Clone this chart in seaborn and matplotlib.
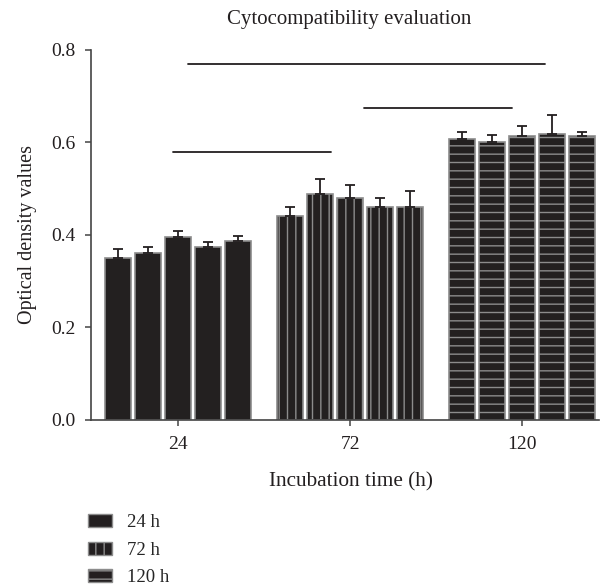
import numpy as np
import pandas as pd
import matplotlib
matplotlib.use("Agg")
import matplotlib.pyplot as plt
import seaborn as sns
from matplotlib.patches import Patch

# dados
tempos = ["24", "72", "120"]
amostras = ["A", "B", "C", "D", "E"]
od_24 = [0.350, 0.362, 0.396, 0.375, 0.386]
od_72 = [0.442, 0.489, 0.481, 0.461, 0.461]
od_120 = [0.607, 0.600, 0.614, 0.618, 0.613]
err_24 = [0.020, 0.012, 0.013, 0.010, 0.012]
err_72 = [0.019, 0.033, 0.027, 0.018, 0.035]
err_120 = [0.016, 0.016, 0.022, 0.042, 0.010]
legenda = ["24 h", "72 h", "120 h"]

# linhas de significância: inicio, fim (em posição de grupo), altura
sig_inicio = [0.06, 1.08, -0.03]
sig_fim = [2.13, 1.94, 0.89]
sig_altura = [0.770, 0.675, 0.580]

valores = [od_24, od_72, od_120]
erros = [err_24, err_72, err_120]
df = pd.DataFrame({
    "tempo": np.repeat(tempos, len(amostras)),
    "amostra": amostras * len(tempos),
    "od": np.concatenate(valores),
})

sns.set_style("ticks")
plt.rcParams["font.family"] = ["Liberation Serif", "DejaVu Serif"]
plt.rcParams["hatch.linewidth"] = 1.0
plt.rcParams["hatch.color"] = "#8c8c8c"

preto = "#231f20"
cinza = "#8c8c8c"
hatches = ["", "||", "--"]

fig = plt.figure(figsize=(6.01, 5.86), dpi=100)
ax = fig.add_axes([0.1514, 0.2833, 0.8456, 0.6314])

sns.barplot(data=df, x="tempo", y="od", hue="amostra", order=tempos,
            hue_order=amostras, palette=[preto] * 5, width=0.87, gap=0.13,
            errorbar=None, legend=False, ax=ax, edgecolor=cinza, linewidth=1.2)

barras = list(ax.containers)
for h, cont in enumerate(barras):
    for g, barra in enumerate(cont.patches):
        barra.set_hatch(hatches[g])
        xc = barra.get_x() + barra.get_width() / 2
        ax.errorbar(xc, valores[g][h], yerr=[[0], [erros[g][h]]], fmt="none",
                    ecolor=preto, elinewidth=1.3, capsize=3.3, capthick=1.3)

for x0, x1, y in zip(sig_inicio, sig_fim, sig_altura):
    ax.plot([x0, x1], [y, y], color=preto, lw=1.3)

ax.set_ylim(0, 0.8)
ax.set_xlim(-0.504, 2.446)
ax.set_yticks([0.0, 0.2, 0.4, 0.6, 0.8])
ax.set_yticklabels(["0.0", "0.2", "0.4", "0.6", "0.8"])
ax.tick_params(axis="both", labelsize=14, colors="#444444", length=4.3,
               width=1.1, pad=7, labelcolor="#231f20")
for s in ["left", "bottom"]:
    ax.spines[s].set_color("#444444")
    ax.spines[s].set_linewidth(1.2)
sns.despine(ax=ax)

ax.set_xlabel("Incubation time (h)", fontsize=15.3, color="#231f20")
ax.set_ylabel("Optical density values", fontsize=14.5, color="#231f20")
ax.xaxis.set_label_coords(0.512, -0.14)
ax.yaxis.set_label_coords(-0.106, 0.5)
ax.text(0.509, 1.083, "Cytocompatibility evaluation", transform=ax.transAxes,
        ha="center", va="center", fontsize=15, color="#231f20")

handles = [Patch(facecolor=preto, edgecolor=cinza, hatch=hatches[i]) for i in range(3)]
fig.legend(handles, legenda, loc="upper left", bbox_to_anchor=(88 / 601, 1 - 514 / 586),
           frameon=False, fontsize=13.5, handlelength=1.3, handleheight=0.7,
           handletextpad=0.8, labelspacing=0.56, borderpad=0, borderaxespad=0)

fig.savefig("out.png", dpi=100)
